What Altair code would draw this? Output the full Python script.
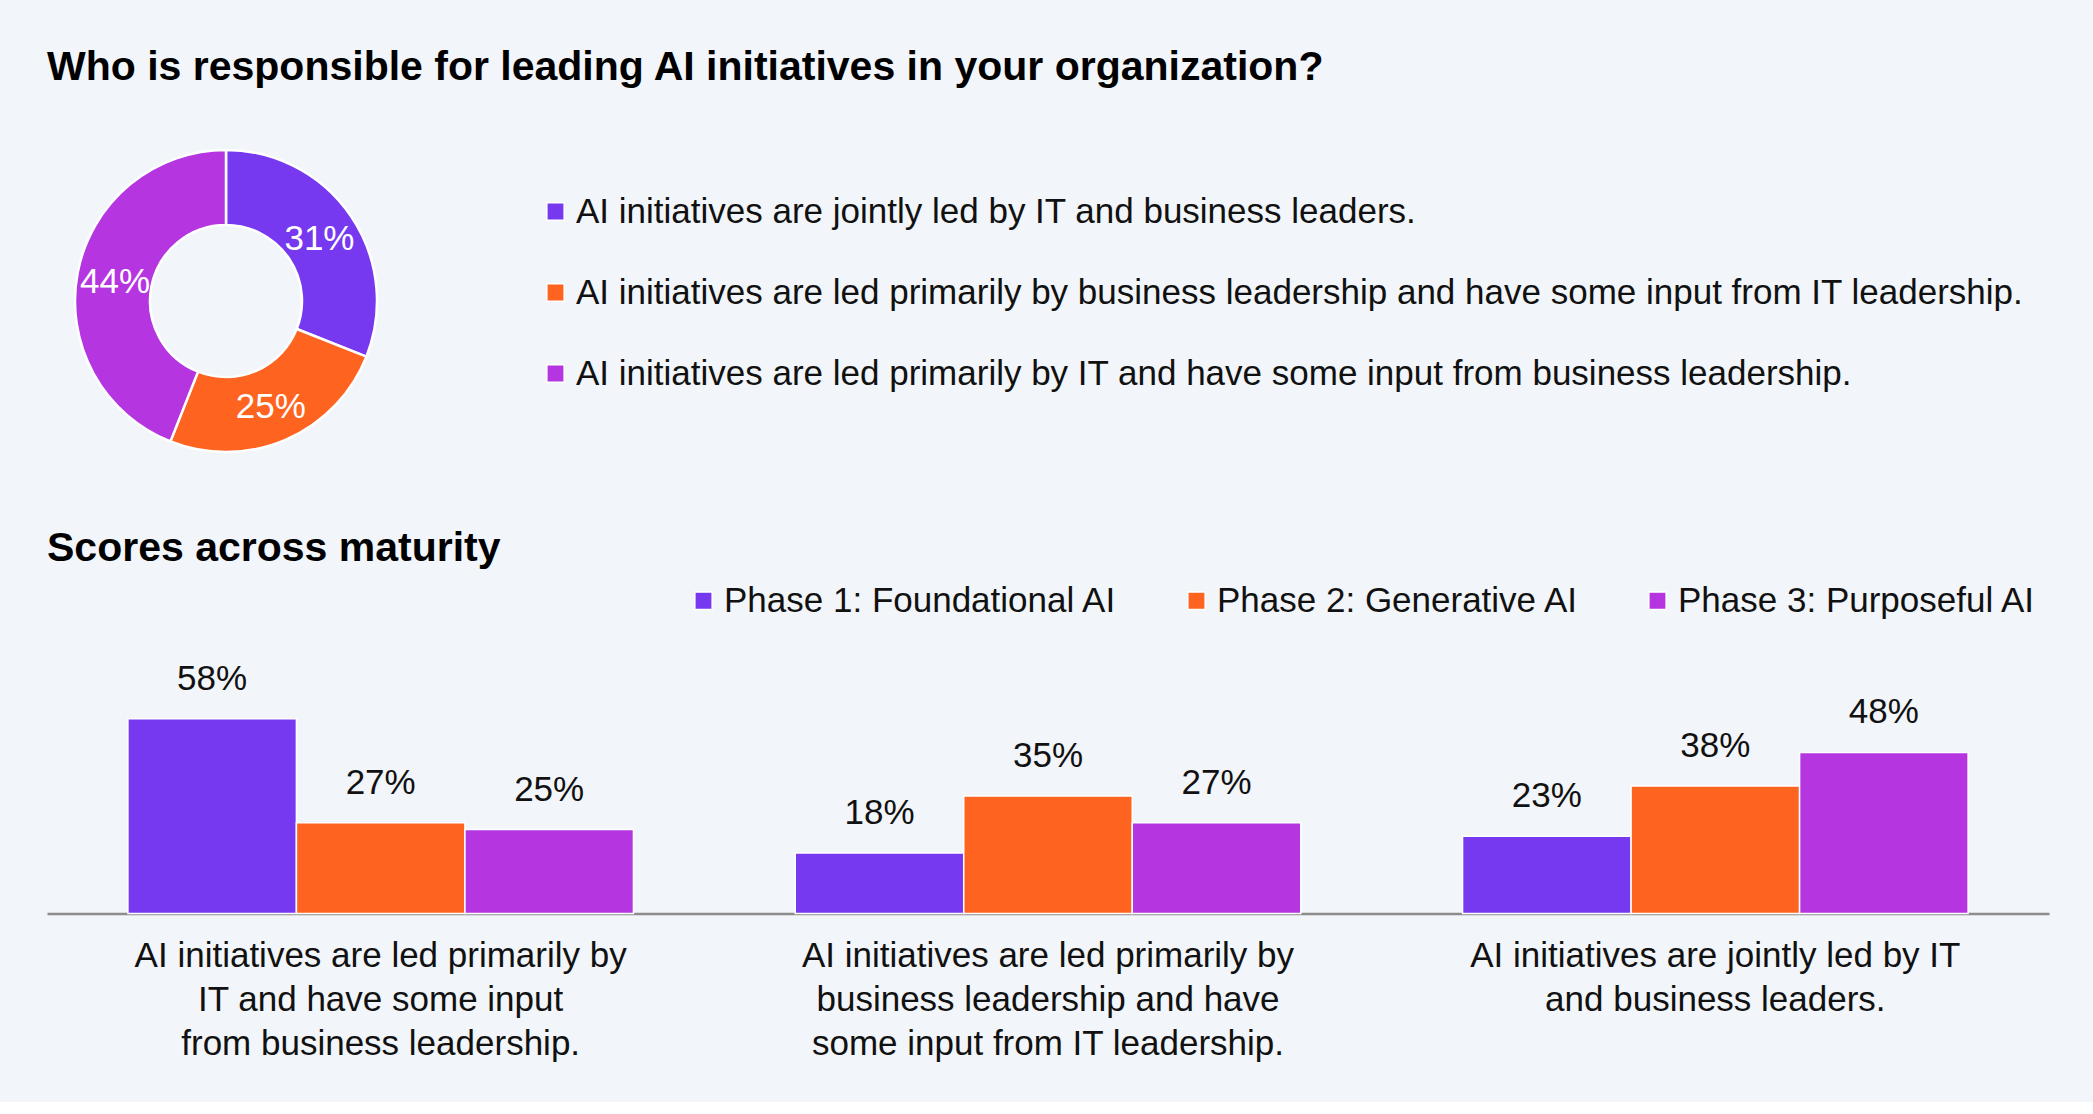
import altair as alt
import pandas as pd

BG = "#F2F5F9"
FONT = "Liberation Sans"
INK = "#111111"

# --- Who leads AI initiatives (donut) ---
leaders = [
    "AI initiatives are jointly led by IT and business leaders.",
    "AI initiatives are led primarily by business leadership and have some input from IT leadership.",
    "AI initiatives are led primarily by IT and have some input from business leadership.",
]
leader_share = [31, 25, 44]
leader_colors = ["#7739F0", "#FF6320", "#B536E0"]

# --- Scores across maturity (grouped bars) ---
groups = [
    "AI initiatives are led primarily by|IT and have some input|from business leadership.",
    "AI initiatives are led primarily by|business leadership and have|some input from IT leadership.",
    "AI initiatives are jointly led by IT|and business leaders.",
]
phases = ["Phase 1: Foundational AI", "Phase 2: Generative AI", "Phase 3: Purposeful AI"]
phase1 = [58, 18, 23]
phase2 = [27, 35, 38]
phase3 = [25, 27, 48]
phase_colors = ["#7739F0", "#FF6320", "#B536E0"]

donut_df = pd.DataFrame({
    "leader": leaders,
    "share": leader_share,
    "rank": list(range(len(leaders))),
    "label": [f"{v}%" for v in leader_share],
})

rows = []
for series, name in zip([phase1, phase2, phase3], phases):
    for g, v in zip(groups, series):
        rows.append({"group": g, "phase": name, "value": v, "label": f"{v}%"})
bar_df = pd.DataFrame(rows)


def square_legend(**kw):
    return alt.Legend(
        title=None,
        orient="none",
        symbolType="square",
        symbolSize=300,
        symbolStrokeColor="white",
        symbolStrokeWidth=1.5,
        symbolOpacity=1,
        labelFont=FONT,
        labelFontSize=35,
        labelColor=INK,
        labelLimit=3000,
        labelOffset=3,
        padding=0,
        **kw,
    )


# Donut
donut_base = alt.Chart(donut_df).encode(
    theta=alt.Theta("share:Q", stack=True),
    order=alt.Order("rank:Q"),
)
arcs = donut_base.mark_arc(innerRadius=76, outerRadius=151, stroke="white", strokeWidth=2.5).encode(
    color=alt.Color(
        "leader:N",
        scale=alt.Scale(domain=leaders, range=leader_colors),
        legend=square_legend(legendX=491, legendY=83, direction="vertical", rowPadding=45),
    )
)
arc_text = donut_base.mark_text(radius=113, dy=2, font=FONT, fontSize=35).encode(
    text="label:N",
    color=alt.value("white"),
)
donut = alt.layer(arcs, arc_text).properties(width=358, height=380)

# Grouped bars
bar_base = alt.Chart(bar_df).encode(
    x=alt.X(
        "group:N",
        sort=groups,
        scale=alt.Scale(paddingInner=0, paddingOuter=0),
        axis=alt.Axis(
            title=None,
            labelExpr="split(datum.label, '|')",
            labelAngle=0,
            labelFont=FONT,
            labelFontSize=35,
            labelColor=INK,
            labelLineHeight=44,
            labelBaseline="top",
            labelPadding=25,
            labelLimit=0,
            ticks=False,
            domainColor="#8C8C8C",
            domainWidth=2.5,
        ),
    ),
    xOffset=alt.XOffset("phase:N", sort=phases, scale=alt.Scale(paddingInner=0, paddingOuter=0.48)),
    y=alt.Y("value:Q", scale=alt.Scale(domain=[0, 100]), axis=None),
)
bars = bar_base.mark_bar(stroke="white", strokeWidth=1.5).encode(
    color=alt.Color(
        "phase:N",
        sort=phases,
        scale=alt.Scale(domain=phases, range=phase_colors),
        legend=square_legend(legendX=639, legendY=5, direction="horizontal", columnPadding=61),
    )
)
bar_text = bar_base.mark_text(
    baseline="alphabetic", dy=-29, font=FONT, fontSize=35, color=INK
).encode(text="label:N")
bar_chart = alt.layer(bars, bar_text).properties(
    width=2002,
    height=335.4,
    title=alt.TitleParams(
        "Scores across maturity",
        anchor="start",
        font=FONT,
        fontSize=41,
        fontWeight="bold",
        color="#000000",
        baseline="top",
        offset=8,
    ),
)

chart = (
    alt.vconcat(donut, bar_chart, spacing=37)
    .resolve_scale(color="independent")
    .properties(
        background=BG,
        padding={"left": 47, "top": 47, "right": 44, "bottom": 40},
        title=alt.TitleParams(
            "Who is responsible for leading AI initiatives in your organization?",
            anchor="start",
            font=FONT,
            fontSize=41,
            fontWeight="bold",
            color="#000000",
            baseline="top",
            offset=22,
        ),
    )
    .configure_view(strokeWidth=0)
)

chart.save("out.html", embed_options={"renderer": "svg", "actions": False})
